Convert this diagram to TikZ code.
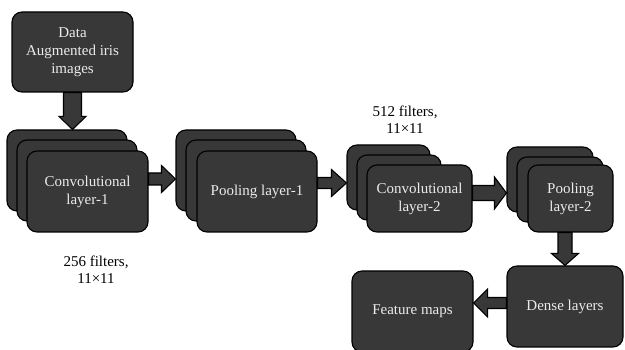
\documentclass[tikz,border=0pt]{standalone}
\usepackage{fontspec}
\setmainfont{Liberation Serif}
\usetikzlibrary{calc}
\definecolor{boxfill}{HTML}{383838}
\definecolor{boxtext}{HTML}{EBEBEB}
\tikzset{
  card/.style={draw=black, line width=1.1pt, fill=boxfill, rounded corners=10pt,
    inner sep=0pt, align=center, text=boxtext, font=\fontsize{15}{18}\selectfont},
  blk/.style={draw=black, line width=1.1pt, fill=boxfill, line join=miter},
  lbl/.style={align=center, font=\fontsize{15}{17}\selectfont, text=black}
}
% horizontal block arrow: start, end, shaft half width, head half width, head length
\newcommand\harrow[5]{%
  \path[blk] let \p1=(#1), \p2=(#2), \n1={sign(\x2-\x1)} in
    (\x1,\y1+#3) -- (\x2-\n1*#5,\y1+#3) -- (\x2-\n1*#5,\y1+#4) -- (\x2,\y1)
    -- (\x2-\n1*#5,\y1-#4) -- (\x2-\n1*#5,\y1-#3) -- (\x1,\y1-#3) -- cycle;}
% vertical block arrow
\newcommand\varrow[5]{%
  \path[blk] let \p1=(#1), \p2=(#2), \n1={sign(\y2-\y1)} in
    (\x1+#3,\y1) -- (\x1+#3,\y2-\n1*#5) -- (\x1+#4,\y2-\n1*#5) -- (\x1,\y2)
    -- (\x1-#4,\y2-\n1*#5) -- (\x1-#3,\y2-\n1*#5) -- (\x1-#3,\y1) -- cycle;}
\begin{document}
\begin{tikzpicture}[x=1pt,y=-1pt]
\useasboundingbox (0,0) rectangle (625,350);
% input
\node[card, minimum width=121pt, minimum height=80pt] (data) at (72.5,52) {Data\\Augmented iris\\images};
% conv 1
\node[card, minimum width=120pt, minimum height=81pt] (c1b) at (67,170.5) {};
\node[card, minimum width=120pt, minimum height=81pt] (c1m) at (77,180.5) {};
\node[card, minimum width=121pt, minimum height=81pt] (c1f) at (87.5,191.5) {Convolutional\\layer-1};
% pool 1
\node[card, minimum width=120pt, minimum height=81pt] (p1b) at (236,170.5) {};
\node[card, minimum width=120pt, minimum height=81pt] (p1m) at (246,180.5) {};
\node[card, minimum width=120pt, minimum height=81pt] (p1f) at (257,191.5) {Pooling layer-1};
% conv 2
\node[card, minimum width=83pt, minimum height=65pt] (c2b) at (388.5,177.5) {};
\node[card, minimum width=84pt, minimum height=65pt] (c2m) at (399,187.5) {};
\node[card, minimum width=105pt, minimum height=67pt] (c2f) at (419.5,198.5) {Convolutional\\layer-2};
% pool 2
\node[card, minimum width=86pt, minimum height=65pt] (p2b) at (550,179.5) {};
\node[card, minimum width=86pt, minimum height=65pt] (p2m) at (560,189.5) {};
\node[card, minimum width=85pt, minimum height=67pt] (p2f) at (570.5,198.5) {Pooling\\layer-2};
% dense and features
\node[card, minimum width=116pt, minimum height=81pt] (dense) at (565,306.5) {Dense layers};
\node[card, minimum width=121pt, minimum height=81pt] (feat) at (412.5,311.5) {Feature maps};
% labels
\node[lbl] (l256) at (96,270) {256 filters,\\11×11};
\node[lbl] (l512) at (405,120) {512 filters,\\11×11};
% arrows
\varrow{data.south}{data.south |- c1b.north}{9pt}{13.5pt}{13pt}
\harrow{$(c1f.east)+(0,-12.5)$}{p1b.west}{6pt}{13.5pt}{14pt}
\harrow{$(p1f.east)+(0,-8.5)$}{c2b.west}{5.5pt}{13.5pt}{15pt}
\harrow{$(c2f.east)+(0,-5.5)$}{p2b.west}{7.5pt}{16pt}{12pt}
\varrow{dense.north |- p2f.south}{dense.north}{7pt}{13.5pt}{12pt}
\harrow{$(dense.west)+(0,-3.5)$}{feat.east}{5.5pt}{14pt}{14pt}
\end{tikzpicture}
\end{document}
